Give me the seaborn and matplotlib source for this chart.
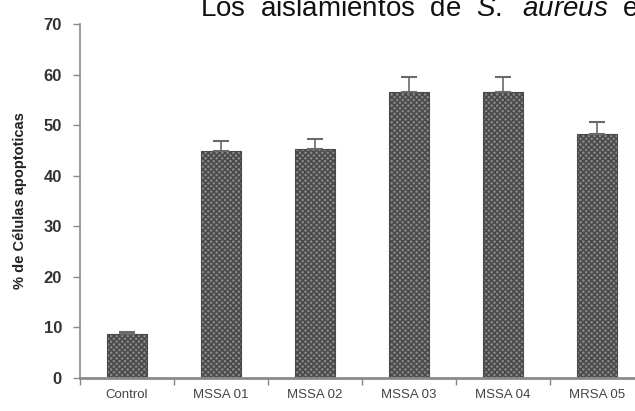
import seaborn as sns
import pandas as pd
import matplotlib.pyplot as plt
import numpy as np

categories = ["Control", "MSSA 01", "MSSA 02", "MSSA 03", "MSSA 04", "MRSA 05"]
values = [8.7, 44.8, 45.3, 56.5, 56.5, 48.2]
errors = [0.3, 2.0, 2.0, 3.0, 3.0, 2.5]
yticks = [0, 10, 20, 30, 40, 50, 60, 70]

df = pd.DataFrame({"grupo": categories, "pct": values})

sns.set_theme(style="white")
plt.rcParams["font.family"] = ["Liberation Sans Narrow", "Liberation Sans", "DejaVu Sans"]
plt.rcParams["hatch.linewidth"] = 1.2
plt.rcParams["mathtext.fontset"] = "custom"
plt.rcParams["mathtext.rm"] = "Liberation Sans"
plt.rcParams["mathtext.it"] = "Liberation Sans:italic"

fig = plt.figure(figsize=(6.35, 4.11), dpi=100)
ax = fig.add_axes([80 / 635, 1 - 378 / 411, 564 / 635, 354 / 411])

sns.barplot(data=df, x="grupo", y="pct", color="#8a8a8a", width=0.42,
            saturation=1, ax=ax)
for p in ax.patches:
    p.set_hatch("xxxxxx")
    p.set_edgecolor("#4a4a4a")
    p.set_linewidth(0.8)

ax.errorbar(np.arange(len(categories)), values,
            yerr=[np.zeros(len(errors)), errors], fmt="none",
            ecolor="#6a6a6a", elinewidth=1.2, capsize=6, capthick=1.5)

ax.set_xlim(-0.5, len(categories) - 0.5)
ax.set_ylim(0, 70)
ax.set_yticks(yticks)
ax.set_yticklabels([str(t) for t in yticks], fontsize=12, fontweight="bold", color="#333333")
ax.set_xticks(np.arange(-0.5, len(categories), 1.0))
ax.set_xticklabels([])
ax.set_xticks(np.arange(len(categories)), minor=True)
ax.set_xticklabels(categories, minor=True, fontsize=9.5, color="#444444")
ax.tick_params(axis="x", which="minor", length=0, pad=8)
ax.tick_params(axis="x", which="major", length=5, width=1, color="#888888", direction="out", bottom=True)
ax.tick_params(axis="y", length=5, width=1, color="#888888", direction="out", left=True, pad=8)

ax.set_xlabel("")
ax.set_ylabel("% de Células apoptoticas", fontsize=10.5, fontweight="bold", color="#222222", labelpad=12)

for s in ["top", "right"]:
    ax.spines[s].set_visible(False)
ax.spines["left"].set_color("#8a8a8a")
ax.spines["left"].set_linewidth(1.2)
ax.spines["bottom"].set_color("#8a8a8a")
ax.spines["bottom"].set_linewidth(2.0)

fig.text(200 / 635, 1 - 16 / 411, r"Los  aislamientos  de  $\mathit{S.}$  $\mathit{aureus}$  e",
         fontsize=20, color="#111111", ha="left", va="baseline",
         family=["Liberation Sans", "DejaVu Sans"])

plt.savefig("out.png", dpi=100)
